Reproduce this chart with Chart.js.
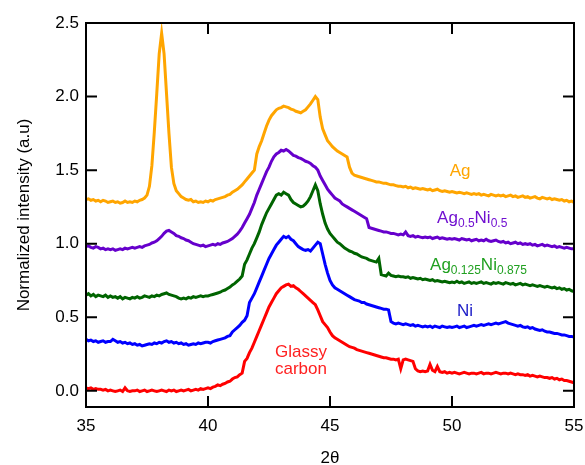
<!DOCTYPE html>
<html>
<head>
<meta charset="utf-8">
<script src="https://cdn.jsdelivr.net/npm/chart.js@4/dist/chart.umd.min.js"></script>
<style>
  html, body { margin: 0; padding: 0; background: #fff; overflow: hidden; }
  #wrap { width: 585px; height: 465px; position: relative; }
</style>
</head>
<body>
<div id="wrap"><canvas id="xrd"></canvas></div>
<script>
// 2-theta grid (deg)
const theta = [
  35,35.1,35.2,35.3,35.4,35.5,35.6,35.7,35.8,35.9,
  36,36.1,36.2,36.3,36.4,36.5,36.6,36.7,36.8,36.9,
  37,37.1,37.2,37.3,37.4,37.5,37.6,37.7,37.8,37.9,
  38,38.1,38.2,38.3,38.4,38.5,38.6,38.7,38.8,38.9,
  39,39.1,39.2,39.3,39.4,39.5,39.6,39.7,39.8,39.9,
  40,40.1,40.2,40.3,40.4,40.5,40.6,40.7,40.8,40.9,
  41,41.1,41.2,41.3,41.4,41.5,41.6,41.7,41.8,41.9,
  42,42.1,42.2,42.3,42.4,42.5,42.6,42.7,42.8,42.9,
  43,43.1,43.2,43.3,43.4,43.5,43.6,43.7,43.8,43.9,
  44,44.1,44.2,44.3,44.4,44.5,44.6,44.7,44.8,44.9,
  45,45.1,45.2,45.3,45.4,45.5,45.6,45.7,45.8,45.9,
  46,46.1,46.2,46.3,46.4,46.5,46.6,46.7,46.8,46.9,
  47,47.1,47.2,47.3,47.4,47.5,47.6,47.7,47.8,47.9,
  48,48.1,48.2,48.3,48.4,48.5,48.6,48.7,48.8,48.9,
  49,49.1,49.2,49.3,49.4,49.5,49.6,49.7,49.8,49.9,
  50,50.1,50.2,50.3,50.4,50.5,50.6,50.7,50.8,50.9,
  51,51.1,51.2,51.3,51.4,51.5,51.6,51.7,51.8,51.9,
  52,52.1,52.2,52.3,52.4,52.5,52.6,52.7,52.8,52.9,
  53,53.1,53.2,53.3,53.4,53.5,53.6,53.7,53.8,53.9,
  54,54.1,54.2,54.3,54.4,54.5,54.6,54.7,54.8,54.9,
  55
];

const agData = [
  1.3,1.305,1.295,1.3,1.29,1.295,1.285,1.295,1.29,1.28,
  1.285,1.29,1.28,1.285,1.275,1.28,1.29,1.28,1.285,1.28,
  1.29,1.285,1.295,1.3,1.31,1.33,1.39,1.53,1.76,2.02,
  2.29,2.43,2.29,2.02,1.75,1.52,1.41,1.36,1.34,1.32,
  1.31,1.3,1.295,1.3,1.285,1.29,1.28,1.285,1.28,1.29,
  1.285,1.295,1.29,1.3,1.305,1.31,1.315,1.32,1.33,1.335,
  1.35,1.36,1.37,1.385,1.4,1.42,1.44,1.46,1.48,1.5,
  1.61,1.66,1.7,1.75,1.8,1.84,1.87,1.89,1.91,1.92,
  1.925,1.935,1.93,1.925,1.915,1.91,1.9,1.895,1.89,1.9,
  1.91,1.93,1.95,1.975,2.0,1.98,1.86,1.78,1.74,1.7,
  1.68,1.66,1.645,1.63,1.62,1.61,1.6,1.59,1.52,1.48,
  1.465,1.46,1.455,1.45,1.445,1.44,1.435,1.43,1.425,1.42,
  1.42,1.415,1.41,1.41,1.405,1.4,1.4,1.395,1.39,1.39,
  1.385,1.39,1.38,1.385,1.375,1.38,1.375,1.37,1.375,1.37,
  1.365,1.37,1.36,1.365,1.37,1.36,1.355,1.36,1.355,1.35,
  1.355,1.35,1.345,1.35,1.345,1.34,1.345,1.34,1.335,1.34,
  1.335,1.34,1.33,1.335,1.33,1.325,1.335,1.33,1.325,1.33,
  1.325,1.33,1.32,1.325,1.33,1.32,1.325,1.315,1.32,1.325,
  1.315,1.32,1.31,1.315,1.32,1.31,1.305,1.315,1.31,1.305,
  1.31,1.3,1.305,1.3,1.295,1.3,1.29,1.295,1.285,1.29,
  1.28
];

const ag50Data = [
  0.98,0.985,0.975,0.97,0.98,0.975,0.965,0.97,0.96,0.965,
  0.96,0.965,0.955,0.96,0.965,0.96,0.97,0.965,0.97,0.975,
  0.97,0.975,0.98,0.975,0.985,0.99,0.995,1.005,1.01,1.02,
  1.035,1.05,1.07,1.085,1.09,1.08,1.07,1.055,1.05,1.04,
  1.035,1.025,1.02,1.01,1.0,0.995,0.99,0.985,0.99,0.98,
  0.985,0.99,0.995,0.99,1.0,0.995,1.005,1.01,1.015,1.025,
  1.035,1.05,1.065,1.085,1.11,1.14,1.17,1.2,1.24,1.28,
  1.33,1.37,1.41,1.45,1.49,1.52,1.56,1.59,1.61,1.62,
  1.635,1.63,1.64,1.63,1.615,1.6,1.595,1.585,1.58,1.57,
  1.56,1.555,1.545,1.53,1.52,1.5,1.46,1.43,1.4,1.37,
  1.35,1.33,1.31,1.3,1.29,1.27,1.26,1.25,1.24,1.23,
  1.22,1.21,1.2,1.19,1.18,1.17,1.11,1.105,1.1,1.095,
  1.09,1.085,1.08,1.08,1.075,1.07,1.07,1.065,1.06,1.065,
  1.06,1.08,1.055,1.05,1.055,1.045,1.05,1.045,1.04,1.045,
  1.04,1.045,1.035,1.04,1.045,1.035,1.04,1.035,1.03,1.035,
  1.03,1.035,1.03,1.025,1.035,1.03,1.025,1.03,1.02,1.025,
  1.03,1.02,1.025,1.02,1.03,1.02,1.015,1.02,1.025,1.015,
  1.01,1.015,1.005,1.01,1.0,1.005,1.01,1.0,1.005,0.995,
  1.0,0.995,1.0,0.99,0.995,0.985,0.99,0.995,0.985,0.99,
  0.985,0.98,0.985,0.975,0.98,0.975,0.97,0.975,0.97,0.965,
  0.965
];

const ag125Data = [
  0.65,0.66,0.645,0.655,0.64,0.65,0.645,0.64,0.65,0.635,
  0.645,0.635,0.64,0.63,0.64,0.625,0.635,0.63,0.625,0.635,
  0.63,0.64,0.63,0.635,0.645,0.64,0.635,0.645,0.64,0.65,
  0.645,0.655,0.66,0.665,0.655,0.65,0.645,0.64,0.63,0.625,
  0.63,0.625,0.635,0.63,0.64,0.635,0.64,0.645,0.64,0.645,
  0.645,0.65,0.655,0.66,0.665,0.67,0.68,0.685,0.695,0.705,
  0.72,0.73,0.745,0.76,0.78,0.86,0.89,0.93,0.97,1.0,
  1.04,1.08,1.13,1.17,1.21,1.24,1.27,1.3,1.33,1.34,
  1.33,1.35,1.34,1.33,1.3,1.28,1.27,1.26,1.25,1.255,
  1.27,1.29,1.32,1.36,1.4,1.36,1.27,1.2,1.14,1.1,
  1.07,1.05,1.03,1.01,1.0,0.985,0.97,0.96,0.95,0.945,
  0.935,0.93,0.92,0.91,0.905,0.9,0.89,0.885,0.88,0.875,
  0.9,0.79,0.785,0.78,0.8,0.785,0.78,0.775,0.78,0.775,
  0.775,0.77,0.775,0.765,0.77,0.765,0.76,0.765,0.755,0.76,
  0.755,0.75,0.755,0.745,0.75,0.745,0.74,0.745,0.74,0.735,
  0.74,0.735,0.745,0.735,0.74,0.73,0.735,0.74,0.73,0.735,
  0.73,0.735,0.74,0.73,0.735,0.73,0.725,0.735,0.73,0.735,
  0.73,0.725,0.735,0.73,0.725,0.73,0.72,0.725,0.73,0.72,
  0.725,0.72,0.715,0.72,0.715,0.71,0.715,0.71,0.705,0.71,
  0.705,0.7,0.705,0.695,0.7,0.69,0.695,0.685,0.69,0.68,
  0.675
];

const niData = [
  0.35,0.34,0.345,0.335,0.34,0.33,0.335,0.34,0.33,0.335,
  0.335,0.35,0.34,0.33,0.335,0.325,0.33,0.32,0.325,0.315,
  0.32,0.31,0.315,0.305,0.31,0.315,0.32,0.315,0.325,0.32,
  0.33,0.325,0.335,0.34,0.33,0.335,0.325,0.33,0.32,0.325,
  0.315,0.32,0.31,0.315,0.32,0.315,0.325,0.32,0.325,0.33,
  0.33,0.325,0.335,0.34,0.345,0.35,0.355,0.36,0.37,0.375,
  0.4,0.415,0.43,0.445,0.465,0.48,0.51,0.6,0.63,0.66,
  0.7,0.74,0.78,0.82,0.86,0.9,0.93,0.96,0.99,1.01,
  1.03,1.05,1.04,1.05,1.03,1.02,1.0,0.98,0.97,0.96,
  0.955,0.96,0.95,0.97,0.99,1.01,1.0,0.93,0.86,0.8,
  0.75,0.72,0.7,0.69,0.68,0.67,0.66,0.65,0.64,0.63,
  0.62,0.615,0.61,0.6,0.6,0.59,0.585,0.58,0.575,0.57,
  0.565,0.56,0.555,0.555,0.55,0.47,0.46,0.455,0.46,0.455,
  0.45,0.455,0.45,0.445,0.45,0.44,0.445,0.44,0.435,0.44,
  0.435,0.44,0.43,0.44,0.435,0.43,0.44,0.435,0.43,0.435,
  0.43,0.435,0.44,0.43,0.435,0.44,0.43,0.435,0.44,0.445,
  0.44,0.445,0.45,0.445,0.45,0.455,0.45,0.455,0.46,0.455,
  0.46,0.465,0.47,0.46,0.455,0.45,0.445,0.44,0.445,0.435,
  0.43,0.435,0.425,0.43,0.42,0.415,0.41,0.415,0.405,0.4,
  0.4,0.395,0.39,0.39,0.385,0.38,0.38,0.375,0.37,0.37,
  0.365
];

const carbonData = [
  0.02,0.015,0.02,0.01,0.015,0.01,0.01,0.005,0.01,0.0,
  0.005,0.0,-0.005,0.0,0.005,-0.005,0.02,0.0,-0.005,0.0,
  0.0,0.005,-0.005,0.0,0.005,-0.005,0.0,0.005,0.0,-0.005,
  0.0,0.005,0.0,-0.005,0.005,0.0,0.005,-0.005,0.0,0.005,
  0.0,0.005,0.01,0.0,0.005,0.01,0.005,0.015,0.01,0.015,
  0.02,0.015,0.025,0.03,0.04,0.035,0.045,0.05,0.06,0.065,
  0.08,0.09,0.095,0.11,0.12,0.2,0.22,0.26,0.29,0.33,
  0.37,0.41,0.45,0.49,0.53,0.57,0.6,0.63,0.66,0.68,
  0.7,0.71,0.72,0.725,0.71,0.715,0.7,0.69,0.675,0.66,
  0.645,0.63,0.615,0.6,0.585,0.55,0.51,0.47,0.45,0.43,
  0.4,0.375,0.36,0.35,0.34,0.33,0.32,0.31,0.3,0.295,
  0.29,0.28,0.275,0.27,0.265,0.26,0.255,0.25,0.245,0.24,
  0.235,0.23,0.225,0.225,0.22,0.215,0.215,0.21,0.215,0.15,
  0.21,0.215,0.21,0.205,0.2,0.15,0.135,0.13,0.135,0.13,
  0.135,0.18,0.14,0.13,0.165,0.13,0.125,0.13,0.12,0.125,
  0.12,0.125,0.12,0.115,0.12,0.125,0.12,0.115,0.12,0.12,
  0.115,0.12,0.125,0.115,0.12,0.12,0.115,0.12,0.125,0.12,
  0.115,0.12,0.12,0.115,0.12,0.115,0.11,0.115,0.11,0.11,
  0.105,0.11,0.1,0.105,0.1,0.095,0.1,0.095,0.09,0.09,
  0.085,0.09,0.08,0.085,0.075,0.08,0.07,0.07,0.065,0.06,
  0.055
];

const xTicks = [35, 40, 45, 50, 55];
const yTicks = [0, 0.5, 1.0, 1.5, 2.0, 2.5];

const FONT = '"Liberation Sans", Arial, sans-serif';

// curve labels, with subscripts
const curveLabels = [
  { parts: [['Ag', 0]], color: '#ffa500', x: 50.33, y: 1.49, align: 'center' },
  { parts: [['Ag', 0], ['0.5', 1], ['Ni', 0], ['0.5', 1]], color: '#7010d0', x: 49.39, y: 1.175, align: 'left' },
  { parts: [['Ag', 0], ['0.125', 1], ['Ni', 0], ['0.875', 1]], color: '#20a020', x: 49.1, y: 0.856, align: 'left' },
  { parts: [['Ni', 0]], color: '#2020c8', x: 50.53, y: 0.537, align: 'center' },
  { parts: [['Glassy', 0]], color: '#ff2020', x: 43.81, y: 0.265, align: 'center' },
  { parts: [['carbon', 0]], color: '#ff2020', x: 43.81, y: 0.143, align: 'center' }
];

const labelPlugin = {
  id: 'curveLabels',
  afterDatasetsDraw(chart) {
    const { ctx, scales: { x, y } } = chart;
    ctx.save();
    ctx.textBaseline = 'middle';
    curveLabels.forEach(l => {
      let w = 0;
      l.parts.forEach(p => {
        ctx.font = (p[1] ? '12px ' : '17px ') + FONT;
        w += ctx.measureText(p[0]).width;
      });
      let px = x.getPixelForValue(l.x);
      if (l.align === 'center') px -= w / 2;
      const py = y.getPixelForValue(l.y);
      ctx.fillStyle = l.color;
      ctx.textAlign = 'left';
      l.parts.forEach(p => {
        ctx.font = (p[1] ? '12px ' : '17px ') + FONT;
        ctx.fillText(p[0], px, p[1] ? py + 6 : py);
        px += ctx.measureText(p[0]).width;
      });
    });
    ctx.restore();
  }
};

// box frame with inward ticks on all four sides
const framePlugin = {
  id: 'frame',
  afterDraw(chart) {
    const { ctx, chartArea: a, scales: { x, y } } = chart;
    const tl = 11;
    ctx.save();
    ctx.strokeStyle = '#000';
    ctx.lineWidth = 2;
    ctx.strokeRect(a.left, a.top, a.right - a.left, a.bottom - a.top);
    ctx.beginPath();
    x.ticks.forEach(t => {
      const px = x.getPixelForValue(t.value);
      ctx.moveTo(px, a.bottom); ctx.lineTo(px, a.bottom - tl);
      ctx.moveTo(px, a.top); ctx.lineTo(px, a.top + tl);
    });
    y.ticks.forEach(t => {
      const py = y.getPixelForValue(t.value);
      ctx.moveTo(a.left, py); ctx.lineTo(a.left + tl, py);
      ctx.moveTo(a.right, py); ctx.lineTo(a.right - tl, py);
    });
    ctx.stroke();
    ctx.restore();
  }
};

function series(data, color) {
  return {
    data: data,
    borderColor: color,
    borderWidth: 3,
    pointRadius: 0,
    tension: 0,
    fill: false
  };
}

new Chart(document.getElementById('xrd'), {
  type: 'line',
  data: {
    labels: theta,
    datasets: [
      series(carbonData, '#ff0000'),
      series(niData, '#0000ff'),
      series(ag125Data, '#006400'),
      series(ag50Data, '#6600cc'),
      series(agData, '#ffa500')
    ]
  },
  options: {
    responsive: true,
    maintainAspectRatio: false,
    animation: false,
    layout: { padding: { top: 23, right: 11, left: 0, bottom: 0 } },
    plugins: { legend: { display: false }, tooltip: { enabled: false } },
    scales: {
      x: {
        type: 'linear',
        min: 35,
        max: 55,
        afterBuildTicks: s => { s.ticks = xTicks.map(v => ({ value: v })); },
        afterFit: s => { s.height = 58; s.paddingLeft = 0; s.paddingRight = 0; },
        grid: { display: false, drawTicks: false },
        border: { display: false },
        ticks: {
          color: '#000',
          font: { family: FONT, size: 17 },
          padding: 9,
          maxRotation: 0,
          callback: v => String(v)
        },
        title: {
          display: true,
          text: '2θ',
          color: '#000',
          font: { family: FONT, size: 17 },
          padding: { top: 0, bottom: -4 }
        }
      },
      y: {
        min: -0.11,
        max: 2.5,
        afterBuildTicks: s => { s.ticks = yTicks.map(v => ({ value: v })); },
        afterFit: s => { s.width = 86; },
        grid: { display: false, drawTicks: false },
        border: { display: false },
        ticks: {
          color: '#000',
          font: { family: FONT, size: 17 },
          padding: 7,
          callback: v => v.toFixed(1)
        },
        title: {
          display: true,
          text: 'Normalized intensity (a.u)',
          color: '#000',
          font: { family: FONT, size: 17 },
          padding: { top: 14, bottom: 0 }
        }
      }
    }
  },
  plugins: [labelPlugin, framePlugin]
});
</script>
</body>
</html>
